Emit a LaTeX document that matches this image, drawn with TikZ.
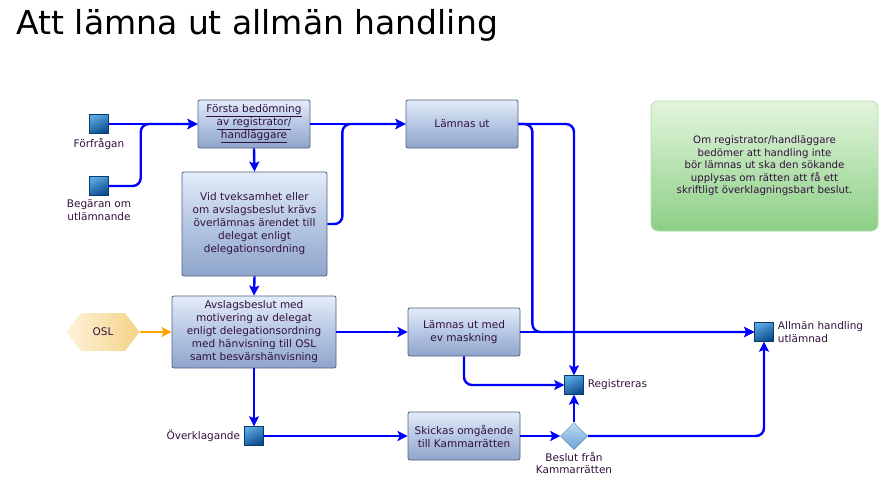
\documentclass[tikz,border=0pt]{standalone}
\usepackage{fontspec}
\setmainfont{DejaVu Sans}
\usetikzlibrary{positioning,arrows.meta,shapes.geometric,shapes.symbols}
\definecolor{txt}{HTML}{33103D}
\definecolor{flowblue}{HTML}{0000FF}
\definecolor{oslorange}{HTML}{FFA500}
\definecolor{boxtop}{HTML}{E3ECF9}
\definecolor{boxmid}{HTML}{B6C7E3}
\definecolor{boxbot}{HTML}{8EA4CB}
\definecolor{boxedge}{HTML}{565E82}
\definecolor{sqtop}{HTML}{5AA8E2}
\definecolor{sqbot}{HTML}{0C4A8C}
\definecolor{dmtop}{HTML}{BCDAF3}
\definecolor{dmbot}{HTML}{6BA3D8}
\definecolor{hexl}{HTML}{FDF2DA}
\definecolor{hexr}{HTML}{F5D387}
\definecolor{notetop}{HTML}{E2F5DC}
\definecolor{notebot}{HTML}{8CCF86}
\definecolor{noteedge}{HTML}{B4DCAC}
\tikzset{
  stepbox/.style={draw=boxedge, line width=0.8pt, rounded corners=2pt,
    top color=boxtop, bottom color=boxbot, middle color=boxmid,
    text=txt, align=center, inner sep=2pt,
    font=\fontsize{10.5}{13}\selectfont},
  event/.style={rectangle, inner sep=0pt, minimum size=19pt,
    draw=sqbot!80!black, line width=0.4pt,
    top color=sqtop, bottom color=sqbot, shading angle=25},
  decision/.style={diamond, inner sep=0pt, minimum width=27pt, minimum height=27pt,
    draw=dmbot!80!black, line width=0.5pt, top color=dmtop, bottom color=dmbot},
  source/.style={signal, signal to=west and east, signal pointer angle=105,
    minimum width=73pt, minimum height=38pt, inner sep=0pt,
    left color=hexl, right color=hexr, text=txt,
    font=\fontsize{10.5}{13}\selectfont},
  note/.style={draw=noteedge, line width=0.8pt, rounded corners=7pt,
    top color=notetop, bottom color=notebot, text=txt, align=center,
    font=\fontsize{10.2}{12.5}\selectfont},
  lab/.style={text=txt, inner sep=1pt, font=\fontsize{10.5}{12.5}\selectfont},
  flow/.style={draw=flowblue, line width=2.4pt, rounded corners=8pt,
    -{Stealth[length=10pt,width=10pt,inset=2pt]}},
  oslflow/.style={draw=oslorange, line width=2.4pt,
    -{Stealth[length=10pt,width=10pt,inset=2pt]}},
}
\begin{document}
\begin{tikzpicture}[x=1pt, y=-1pt]
  \useasboundingbox (0,0) rectangle (886,480);
  \node[anchor=base west, font=\fontsize{33}{40}\selectfont] (title) at (13,34)
    {Att lämna ut allmän handling};

  % start events
  \node[event] (ff) at (99,124) {};
  \node[lab, below=3pt of ff] (fflab) {Förfrågan};
  \node[event] (beg) at (99,186) {};
  \node[lab, below=3pt of beg, align=center] (beglab) {Begäran om\\utlämnande};

  % steps
  \node[stepbox, minimum width=112pt, minimum height=48pt] (first) at (254,124)
    {\underline{Första bedömning}\\\underline{av registrator/}\\\underline{handläggare}};
  \node[stepbox, minimum width=145pt, minimum height=104pt] (doubt) at (254.5,224)
    {Vid tveksamhet eller\\om avslagsbeslut krävs\\överlämnas ärendet till\\delegat enligt\\delegationsordning};
  \node[stepbox, minimum width=164pt, minimum height=72pt] (refuse) at (254,332)
    {Avslagsbeslut med\\motivering av delegat\\enligt delegationsordning\\med hänvisning till OSL\\samt besvärshänvisning};
  \node[source] (osl) at (103,332) {OSL};
  \node[stepbox, minimum width=112pt, minimum height=48pt] (out) at (462,124) {Lämnas ut};
  \node[stepbox, minimum width=112pt, minimum height=48pt] (mask) at (464,332)
    {Lämnas ut med\\ev maskning};
  \node[stepbox, minimum width=112pt, minimum height=48pt] (send) at (464,436)
    {Skickas omgående\\till Kammarrätten};

  % end events and decision
  \node[event] (appeal) at (254,436) {};
  \node[lab, left=3pt of appeal] (appeallab) {Överklagande};
  \node[event] (reg) at (574,385) {};
  \node[lab, right=3pt of reg] (reglab) {Registreras};
  \node[decision] (court) at (574,436) {};
  \node[lab, below=1pt of court, align=center] (courtlab) {Beslut från\\Kammarrätten};
  \node[event] (done) at (764,332) {};
  \node[lab, right=3pt of done, align=left] (donelab) {Allmän handling\\utlämnad};

  \node[note, minimum width=227pt, minimum height=130pt] (info) at (764.5,166)
    {Om registrator/handläggare\\bedömer att handling inte\\bör lämnas ut ska den sökande\\upplysas om rätten att få ett\\skriftligt överklagningsbart beslut.};

  % connectors
  \draw[flow] (ff.east) -- (first.west);
  \draw[flow] (beg.east) -- ++(32,0) |- (first.west);
  \draw[flow] (first.south) -- (doubt.north);
  \draw[flow] (first.east) -- (out.west);
  \draw[flow] (doubt.east) -- ++(15,0) |- (out.west);
  \draw[flow] (doubt.south) -- (refuse.north);
  \draw[oslflow] (osl.east) -- (refuse.west);
  \draw[flow] (refuse.east) -- (mask.west);
  \draw[flow] (refuse.south) -- (appeal.north);
  \draw[flow] (appeal.east) -- (send.west);
  \draw[flow] (send.east) -- (court.west);
  \draw[flow] (court.north) -- (reg.south);
  \draw[flow] (court.east) -| (done.south);
  \draw[flow] (out.east) -| (reg.north);
  \draw[flow] (out.east) -- ++(14,0) |- (done.west);
  \draw[flow] (mask.east) -- (done.west);
  \draw[flow] (mask.south) |- (reg.west);
\end{tikzpicture}
\end{document}
